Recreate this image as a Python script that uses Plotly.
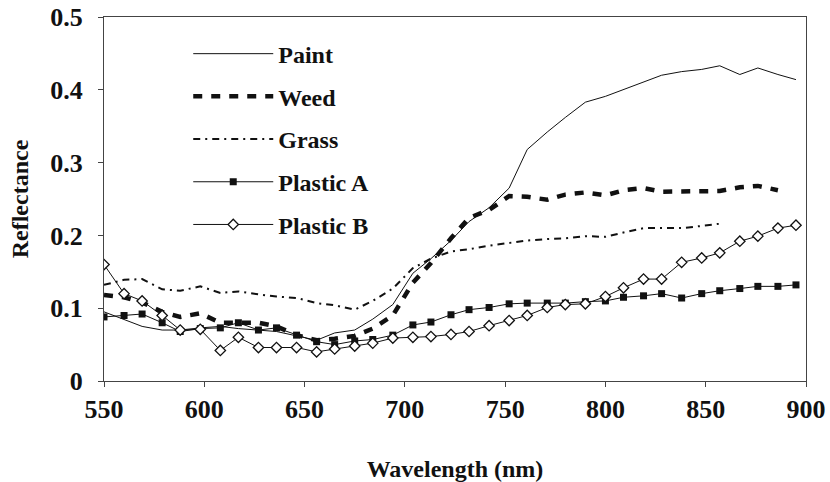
import plotly.graph_objects as go

wavelength = [550, 560, 569, 579, 588, 598, 608, 617, 627, 636, 646, 656, 665, 675, 684,
              694, 704, 713, 723, 732, 742, 752, 761, 771, 780, 790, 800, 809, 819, 828,
              838, 848, 857, 867, 876, 886, 895]

paint = [0.095, 0.085, 0.075, 0.070, 0.070, 0.073, 0.075, 0.072, 0.070, 0.068, 0.062, 0.056,
         0.066, 0.070, 0.085, 0.105, 0.148, 0.168, 0.193, 0.219, 0.238, 0.265, 0.318, 0.342,
         0.362, 0.383, 0.391, 0.400, 0.410, 0.420, 0.425, 0.428, 0.433, 0.421, 0.430, 0.421, 0.414]

weed = [0.118, 0.115, 0.108, 0.095, 0.088, 0.093, 0.080, 0.080, 0.080, 0.075, 0.063, 0.056,
        0.058, 0.062, 0.072, 0.090, 0.135, 0.162, 0.196, 0.224, 0.235, 0.254, 0.253, 0.249,
        0.256, 0.259, 0.255, 0.262, 0.265, 0.260, 0.260, 0.261, 0.261, 0.266, 0.268, 0.262, None]

grass = [0.132, 0.139, 0.140, 0.126, 0.124, 0.130, 0.121, 0.123, 0.119, 0.116, 0.114, 0.107,
         0.104, 0.098, 0.110, 0.127, 0.155, 0.168, 0.178, 0.181, 0.186, 0.190, 0.193, 0.195,
         0.196, 0.199, 0.198, 0.204, 0.210, 0.210, 0.210, 0.213, 0.216, None, None, None, None]

plastic_a = [0.088, 0.090, 0.092, 0.080, 0.068, 0.072, 0.073, 0.080, 0.070, 0.073, 0.063, 0.054,
             0.050, 0.055, 0.057, 0.063, 0.077, 0.081, 0.091, 0.098, 0.101, 0.106, 0.107, 0.107,
             0.107, 0.109, 0.110, 0.115, 0.117, 0.120, 0.114, 0.120, 0.124, 0.127, 0.130, 0.130, 0.132]

plastic_b = [0.160, 0.120, 0.110, 0.090, 0.070, 0.071, 0.042, 0.060, 0.046, 0.046, 0.046, 0.040,
             0.044, 0.048, 0.052, 0.059, 0.060, 0.061, 0.064, 0.068, 0.076, 0.083, 0.090, 0.101,
             0.105, 0.106, 0.116, 0.128, 0.140, 0.140, 0.163, 0.169, 0.176, 0.192, 0.199, 0.210, 0.214]

x_ticks = [550, 600, 650, 700, 750, 800, 850, 900]
y_ticks = [0, 0.1, 0.2, 0.3, 0.4, 0.5]
y_tick_text = ["0", "0.1", "0.2", "0.3", "0.4", "0.5"]

FONT = "Liberation Serif"
INK = "#111111"

fig = go.Figure()
fig.add_trace(go.Scatter(x=wavelength, y=paint, name="Paint", mode="lines",
                         line=dict(color=INK, width=1), legendgroup="a"))
fig.add_trace(go.Scatter(x=wavelength, y=weed, name="Weed", mode="lines",
                         line=dict(color=INK, width=4.5, dash="9px,9px"), legendgroup="b"))
fig.add_trace(go.Scatter(x=wavelength, y=grass, name="Grass", mode="lines",
                         line=dict(color=INK, width=2, dash="7px,5px,2px,5px"), legendgroup="c"))
fig.add_trace(go.Scatter(x=wavelength, y=plastic_a, name="Plastic A", mode="lines+markers",
                         line=dict(color=INK, width=1),
                         marker=dict(symbol="square", size=7, color=INK), legendgroup="d"))
fig.add_trace(go.Scatter(x=wavelength, y=plastic_b, name="Plastic B", mode="lines+markers",
                         line=dict(color=INK, width=1),
                         marker=dict(symbol="diamond", size=8, color="white",
                                     line=dict(color=INK, width=1.3)), legendgroup="e"))

axis_common = dict(showline=True, mirror=True, linecolor="#444444", linewidth=1,
                   showgrid=False, zeroline=False, ticks="outside", ticklen=5,
                   tickcolor="#444444", automargin=False,
                   tickfont=dict(family=FONT, size=26, color=INK, weight="bold"))

fig.update_layout(
    width=830, height=482,
    margin=dict(l=104, r=24, t=17, b=101),
    paper_bgcolor="white", plot_bgcolor="white",
    xaxis=dict(range=[550, 900], tickvals=x_ticks,
               title=dict(text="Wavelength (nm)", standoff=36,
                          font=dict(family=FONT, size=24, color=INK, weight="bold")),
               **axis_common),
    yaxis=dict(range=[0, 0.5], tickvals=y_ticks, ticktext=y_tick_text,
               ticklabelstandoff=10,
               title=dict(text="Reflectance", standoff=14,
                          font=dict(family=FONT, size=24, color=INK, weight="bold")),
               **axis_common),
    legend=dict(x=0.12, y=0.96, xanchor="left", yanchor="top",
                bgcolor="rgba(0,0,0,0)", tracegroupgap=8.5, itemwidth=80,
                font=dict(family=FONT, size=24, color=INK, weight="bold")),
)

fig.write_html("out.html")
